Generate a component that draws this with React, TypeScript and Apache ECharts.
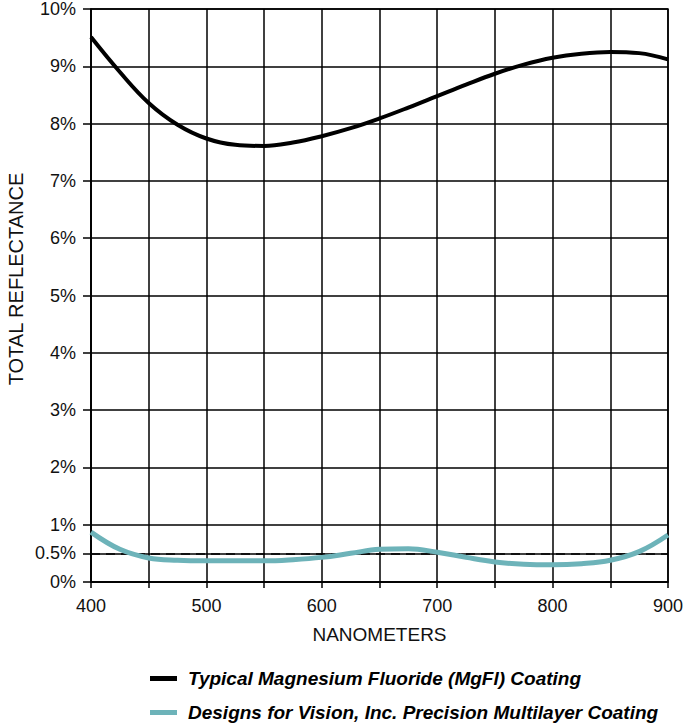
import React, { useEffect, useRef } from "react";
import * as echarts from "echarts";

const wavelengths = [400, 425, 450, 475, 500, 525, 550, 575, 600, 625, 650, 675, 700, 725, 750, 775, 800, 825, 850, 875, 900];
const mgflValues = [9.51, 8.9, 8.36, 7.98, 7.74, 7.63, 7.61, 7.67, 7.78, 7.92, 8.09, 8.28, 8.48, 8.68, 8.87, 9.03, 9.15, 9.22, 9.25, 9.23, 9.12];
const multilayerValues = [0.87, 0.57, 0.42, 0.38, 0.37, 0.37, 0.37, 0.39, 0.43, 0.5, 0.57, 0.58, 0.52, 0.43, 0.35, 0.31, 0.3, 0.32, 0.38, 0.53, 0.82];
const yTickValues = [0, 0.5, 1, 2, 3, 4, 5, 6, 7, 8, 9, 10];
const seriesNames = ["Typical Magnesium Fluoride (MgFl) Coating", "Designs for Vision, Inc. Precision Multilayer Coating"];
const colors = ["#000000", "#6db3b9"];
const FONT = "'Liberation Sans', Arial, Helvetica, sans-serif";

export default function App() {
  const ref = useRef<HTMLDivElement>(null);
  useEffect(() => {
    const chart = echarts.init(ref.current!, null, { renderer: "svg" });
    chart.setOption({
      animation: false,
      backgroundColor: "#ffffff",
      textStyle: { fontFamily: FONT },
      grid: { left: 91, right: 18, top: 7, bottom: 144, show: true, borderColor: "#000", borderWidth: 1.5, containLabel: false },
      xAxis: {
        type: "value",
        min: 400,
        max: 900,
        interval: 50,
        name: "NANOMETERS",
        nameLocation: "middle",
        nameGap: 43,
        nameTextStyle: { fontSize: 19, color: "#111", fontFamily: FONT },
        axisLine: { show: true, lineStyle: { color: "#000", width: 1.5 } },
        axisTick: { show: true, length: 6, lineStyle: { color: "#000", width: 1.5 } },
        axisLabel: {
          fontSize: 18,
          color: "#111",
          margin: 15,
          fontFamily: FONT,
          formatter: (v: number) => (v % 100 === 0 ? String(v) : ""),
        },
        splitLine: { show: true, lineStyle: { color: "#000", width: 1.5 } },
      },
      yAxis: {
        type: "value",
        min: 0,
        max: 10,
        interval: 1,
        axisLine: { show: true, lineStyle: { color: "#000", width: 1.5 } },
        axisTick: { show: true, length: 8, customValues: yTickValues, lineStyle: { color: "#000", width: 1.5 } },
        axisLabel: {
          fontSize: 18,
          color: "#111",
          margin: 15,
          fontFamily: FONT,
          customValues: yTickValues,
          formatter: (v: number) => `${v}%`,
        },
        splitLine: { show: true, lineStyle: { color: "#000", width: 1.5 } },
      },
      legend: {
        orient: "vertical",
        left: 150,
        top: 669,
        padding: 0,
        itemGap: 15,
        itemWidth: 27,
        itemHeight: 5,
        icon: "rect",
        textStyle: { fontSize: 19, fontWeight: "bold", fontStyle: "italic", color: "#000", fontFamily: FONT, padding: [0, 0, 0, 6] },
        data: seriesNames,
      },
      graphic: [
        {
          type: "text",
          x: 15.5,
          y: 279,
          rotation: Math.PI / 2,
          style: { text: "TOTAL REFLECTANCE", fontSize: 20, fill: "#111", fontFamily: FONT, align: "center", verticalAlign: "middle" },
        },
      ],
      series: [
        {
          name: seriesNames[0],
          type: "line",
          smooth: 0.4,
          symbol: "none",
          color: colors[0],
          lineStyle: { color: colors[0], width: 4 },
          data: wavelengths.map((w, i) => [w, mgflValues[i]]),
          z: 5,
        },
        {
          name: seriesNames[1],
          type: "line",
          smooth: 0.4,
          symbol: "none",
          color: colors[1],
          lineStyle: { color: colors[1], width: 5 },
          data: wavelengths.map((w, i) => [w, multilayerValues[i]]),
          z: 5,
          markLine: {
            silent: true,
            symbol: "none",
            label: { show: false },
            lineStyle: { color: "#000", type: [9, 6], width: 1.5 },
            data: [{ yAxis: 0.5 }],
            z: 3,
          },
        },
      ],
    });
    return () => chart.dispose();
  }, []);
  return <div ref={ref} style={{ position: "absolute", left: 0, top: 0, width: 686, height: 726 }} />;
}
